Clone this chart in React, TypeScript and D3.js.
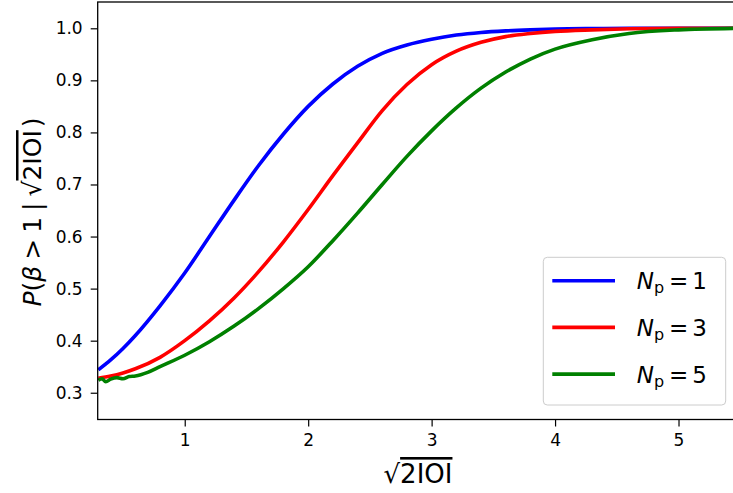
import * as d3 from "d3";
import { useRef, useEffect } from "react";

// sqrt(2|O|) grid for the Np=1 and Np=3 curves
const xValues = [0.3, 0.4, 0.5, 0.6, 0.8, 1.0, 1.2, 1.4, 1.6, 1.8, 2.0, 2.2, 2.4, 2.6, 2.8, 3.0, 3.2, 3.4, 3.6, 3.8, 4.0, 4.3, 4.6, 5.0, 5.5];
const pNp1 = [0.344, 0.363, 0.385, 0.41, 0.467, 0.53, 0.6, 0.67, 0.737, 0.797, 0.85, 0.893, 0.927, 0.952, 0.968, 0.979, 0.987, 0.992, 0.995, 0.997, 0.9985, 0.9995, 1.0, 1.0, 1.0];
const pNp3 = [0.328, 0.332, 0.338, 0.346, 0.368, 0.4, 0.438, 0.482, 0.533, 0.59, 0.652, 0.717, 0.78, 0.842, 0.892, 0.93, 0.956, 0.973, 0.984, 0.99, 0.994, 0.997, 0.999, 1.0, 1.0];
// Np=5 is noisier at the start, so it has its own grid
const xValuesNp5 = [0.3, 0.33, 0.36, 0.4, 0.45, 0.5, 0.55, 0.6, 0.7, 0.8, 1.0, 1.2, 1.4, 1.6, 1.8, 2.0, 2.2, 2.4, 2.6, 2.8, 3.0, 3.2, 3.4, 3.6, 3.8, 4.0, 4.3, 4.6, 5.0, 5.5];
const pNp5 = [0.324, 0.327, 0.321, 0.326, 0.329, 0.327, 0.331, 0.332, 0.339, 0.35, 0.372, 0.398, 0.428, 0.462, 0.5, 0.542, 0.592, 0.645, 0.7, 0.754, 0.803, 0.847, 0.885, 0.916, 0.941, 0.96, 0.978, 0.99, 0.997, 1.0];

const xTicks = [1, 2, 3, 4, 5];
const yTicks = [0.3, 0.4, 0.5, 0.6, 0.7, 0.8, 0.9, 1.0];
const legendNp = ["1", "3", "5"];

const series = [
    { np: "1", xs: xValues, ys: pNp1, color: "#0000ff" },
    { np: "3", xs: xValues, ys: pNp3, color: "#ff0000" },
    { np: "5", xs: xValuesNp5, ys: pNp5, color: "#008000" },
];

const FONT = "DejaVu Sans, sans-serif";

const App = () => {
    const gx = useRef<SVGGElement>(null);
    const gy = useRef<SVGGElement>(null);

    const width = 733;
    const height = 493;
    const left = 97.7;
    const top = 2;
    const right = 739; // right spine falls just outside the picture
    const bottom = 419.5;

    const x = d3.scaleLinear([0.295, 5.49], [left, right]);
    const y = d3.scaleLinear([0.2486, 1.0505], [bottom, top]);

    const line = d3.line<[number, number]>()
        .x(d => x(d[0]))
        .y(d => y(d[1]))
        .curve(d3.curveMonotoneX);

    useEffect(() => {
        const g = d3.select(gx.current!);
        g.call(d3.axisBottom(x).tickValues(xTicks).tickFormat(d3.format("d")).tickSize(7).tickPadding(7));
        g.select(".domain").remove();
        g.selectAll("line").attr("stroke", "#000").attr("stroke-width", 1.2);
        g.selectAll("text").attr("font-size", 17).attr("font-family", FONT).attr("fill", "#000");
    }, [gx, x]);

    useEffect(() => {
        const g = d3.select(gy.current!);
        g.call(d3.axisLeft(y).tickValues(yTicks).tickFormat(d3.format(".1f")).tickSize(7).tickPadding(8));
        g.select(".domain").remove();
        g.selectAll("line").attr("stroke", "#000").attr("stroke-width", 1.2);
        g.selectAll("text").attr("font-size", 17).attr("font-family", FONT).attr("fill", "#000");
    }, [gy, y]);

    return (
        <svg width={width} height={height} style={{ position: "absolute", left: 0, top: 0, background: "#fff" }}>
            <defs>
                <clipPath id="plot">
                    <rect x={left} y={top} width={right - left} height={bottom - top} />
                </clipPath>
            </defs>
            <rect x={0} y={0} width={width} height={height} fill="#fff" />

            <g clipPath="url(#plot)">
                {series.map(s => (
                    <path key={s.np} fill="none" stroke={s.color} strokeWidth="3.6" strokeLinejoin="round"
                        d={line(s.xs.map((v, i) => [v, s.ys[i]] as [number, number])) || ""} />
                ))}
            </g>

            <rect x={left} y={top} width={right - left} height={bottom - top} fill="none" stroke="#000" strokeWidth="1.3" />
            <g ref={gx} transform={`translate(0,${bottom})`} />
            <g ref={gy} transform={`translate(${left},0)`} />

            {/* x label: sqrt(2|O|) */}
            <text x={418} y={483} textAnchor="middle" fontFamily={FONT} fontSize={26}>
                √<tspan style={{ textDecoration: "overline" }}>2IOI</tspan>
            </text>

            {/* y label */}
            <text transform={`translate(41,212) rotate(-90)`} textAnchor="middle" fontFamily={FONT} fontSize={25}>
                <tspan fontStyle="italic">P</tspan>(<tspan fontStyle="italic">β</tspan>
                <tspan dx={6}>&gt;</tspan><tspan dx={6}>1</tspan>
                <tspan dx={6}>|</tspan><tspan dx={6}>√</tspan>
                <tspan style={{ textDecoration: "overline" }}>2IOI</tspan><tspan dx={3}>)</tspan>
            </text>

            {/* legend */}
            <rect x={543.3} y={257.3} width={182.4} height={147.7} rx={4} fill="#fff" fillOpacity={0.8} stroke="#cccccc" strokeWidth="1" />
            {legendNp.map((n, i) => {
                const s = series[i];
                const cy = 280.7 + i * 46.7;
                return (
                    <g key={n}>
                        <line x1={552.3} x2={615} y1={cy} y2={cy} stroke={s.color} strokeWidth="3.6" />
                        <text x={636.7} y={cy + 8.5} fontFamily={FONT} fontSize={23}>
                            <tspan fontStyle="italic">N</tspan>
                            <tspan fontSize={16} dy={4}>p</tspan>
                            <tspan dy={-4} dx={5}>=</tspan>
                            <tspan dx={4}>{n}</tspan>
                        </text>
                    </g>
                );
            })}
        </svg>
    );
};

export default App;
